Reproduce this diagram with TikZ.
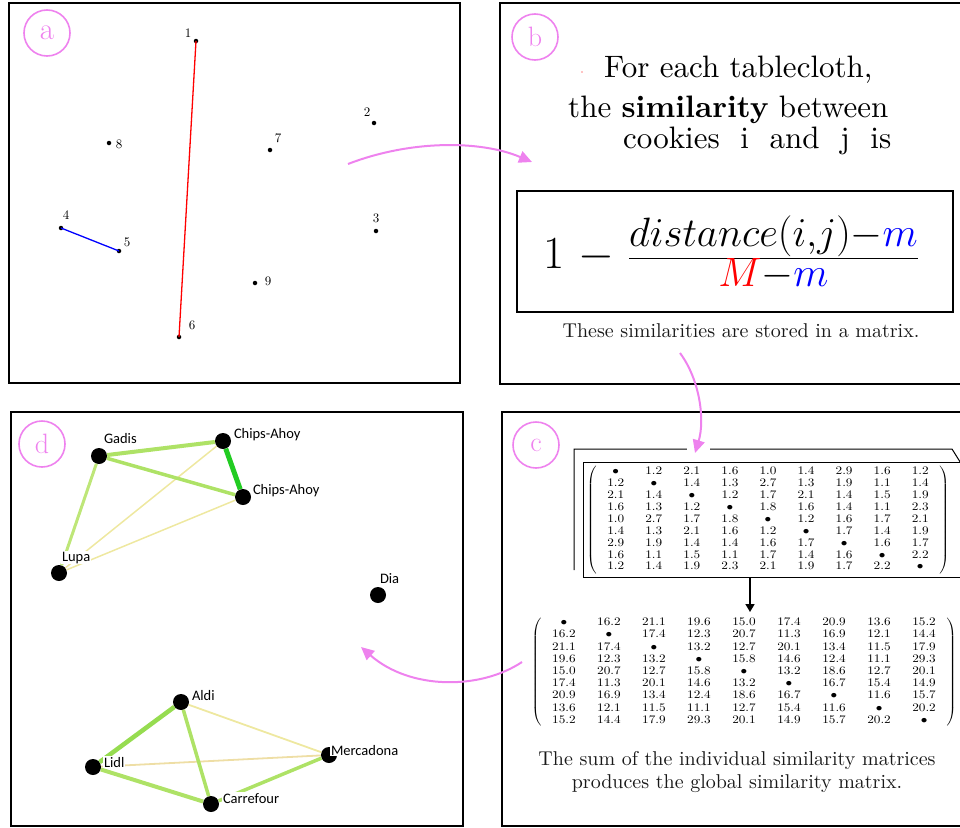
\RequirePackage{fix-cm}
\documentclass[tikz,border=0pt]{standalone}
\usepackage{fontspec}
\newfontfamily\carlito{Carlito}
\newfontfamily\lmten{lmroman10-regular}[Extension=.otf, BoldFont=lmroman10-bold]
\usepackage{graphicx}
\usetikzlibrary{arrows.meta}
\definecolor{lblpink}{RGB}{238,130,238}
\definecolor{edgeA}{RGB}{174,226,102}
\definecolor{edgeB}{RGB}{34,204,34}
\definecolor{edgeC}{RGB}{190,230,120}
\definecolor{edgeY}{RGB}{238,232,160}
\definecolor{edgeT}{RGB}{238,222,165}
\definecolor{edgeD}{RGB}{150,220,80}
\newcommand{\cmatA}{%
\bullet & 1.2 & 2.1 & 1.6 & 1.0 & 1.4 & 2.9 & 1.6 & 1.2\\
1.2 & \bullet & 1.4 & 1.3 & 2.7 & 1.3 & 1.9 & 1.1 & 1.4\\
2.1 & 1.4 & \bullet & 1.2 & 1.7 & 2.1 & 1.4 & 1.5 & 1.9\\
1.6 & 1.3 & 1.2 & \bullet & 1.8 & 1.6 & 1.4 & 1.1 & 2.3\\
1.0 & 2.7 & 1.7 & 1.8 & \bullet & 1.2 & 1.6 & 1.7 & 2.1\\
1.4 & 1.3 & 2.1 & 1.6 & 1.2 & \bullet & 1.7 & 1.4 & 1.9\\
2.9 & 1.9 & 1.4 & 1.4 & 1.6 & 1.7 & \bullet & 1.6 & 1.7\\
1.6 & 1.1 & 1.5 & 1.1 & 1.7 & 1.4 & 1.6 & \bullet & 2.2\\
1.2 & 1.4 & 1.9 & 2.3 & 2.1 & 1.9 & 1.7 & 2.2 & \bullet}
\newcommand{\cmatB}{%
\bullet & 16.2 & 21.1 & 19.6 & 15.0 & 17.4 & 20.9 & 13.6 & 15.2\\
16.2 & \bullet & 17.4 & 12.3 & 20.7 & 11.3 & 16.9 & 12.1 & 14.4\\
21.1 & 17.4 & \bullet & 13.2 & 12.7 & 20.1 & 13.4 & 11.5 & 17.9\\
19.6 & 12.3 & 13.2 & \bullet & 15.8 & 14.6 & 12.4 & 11.1 & 29.3\\
15.0 & 20.7 & 12.7 & 15.8 & \bullet & 13.2 & 18.6 & 12.7 & 20.1\\
17.4 & 11.3 & 20.1 & 14.6 & 13.2 & \bullet & 16.7 & 15.4 & 14.9\\
20.9 & 16.9 & 13.4 & 12.4 & 18.6 & 16.7 & \bullet & 11.6 & 15.7\\
13.6 & 12.1 & 11.5 & 11.1 & 12.7 & 15.4 & 11.6 & \bullet & 20.2\\
15.2 & 14.4 & 17.9 & 29.3 & 20.1 & 14.9 & 15.7 & 20.2 & \bullet}
\begin{document}
\begin{tikzpicture}[x=1pt,y=-1pt,
  panel/.style={draw=black, line width=2.5pt},
  tag/.style={circle, draw=lblpink, line width=1.6pt, minimum size=46pt, inner sep=0pt, text=lblpink, font=\fontsize{28}{30}\selectfont},
  pt/.style={circle, fill=black, inner sep=0pt, minimum size=4.5pt},
  ptlbl/.style={inner sep=0pt, font=\lmten\fontsize{13}{14}\selectfont},
  flow/.style={draw=lblpink, line width=2pt, -{Triangle[length=13pt,width=12pt]}},
  gnode/.style={circle, fill=black, inner sep=0pt, minimum size=16pt},
  glbl/.style={anchor=base west, fill=white, inner sep=0.8pt, font=\carlito\fontsize{14.5}{16}\selectfont},
  btext/.style={anchor=base west, inner sep=0pt, font=\lmten\fontsize{31}{34}\selectfont},
  capt/.style={anchor=base, inner sep=0pt, font=\lmten\fontsize{20}{23}\selectfont, text=black!90},
  frame/.style={draw=black, line width=1pt}
]
\useasboundingbox (0,0) rectangle (960,827);
% panels
\draw[panel] (9,3) rectangle (460,383);
\draw[panel] (500,3) rectangle (975,384);
\draw[panel] (502,412) rectangle (975,826);
\draw[panel] (11,412) rectangle (463,826);
% tags
\node[tag, font=\fontsize{31}{33}\selectfont] (taga) at (47,33) {a};
\node[tag] (tagb) at (535,37) {b};
\node[tag] (tagc) at (536,445) {c};
\node[tag] (tagd) at (42,444) {d};

% panel a
\node[pt] (p1) at (196,41) {};
\node[pt] (p2) at (374,123) {};
\node[pt] (p3) at (376,231) {};
\node[pt] (p4) at (61,228) {};
\node[pt] (p5) at (119,251) {};
\node[pt] (p6) at (179,337) {};
\node[pt] (p7) at (270,150) {};
\node[pt] (p8) at (109,143) {};
\node[pt] (p9) at (255,283) {};
\draw[red, line width=1.3pt] (p1.center) -- (p6.center);
\draw[blue, line width=1.3pt] (p4.center) -- (p5.center);
\node[ptlbl] (l1) at (188,33) {1};
\node[ptlbl] (l2) at (367,112) {2};
\node[ptlbl] (l3) at (376,218) {3};
\node[ptlbl] (l4) at (66,215) {4};
\node[ptlbl] (l5) at (127,242) {5};
\node[ptlbl] (l6) at (192,325) {6};
\node[ptlbl] (l7) at (278,138) {7};
\node[ptlbl] (l8) at (119,144) {8};
\node[ptlbl] (l9) at (268,281) {9};

% panel b
\fill[red] (582,72) circle (0.7);
\node[btext] (bt1) at (604,77) {For each tablecloth,};
\node[btext] (bt2) at (568,117) {the \textbf{similarity} between};
\node[btext] (bt3) at (623,148) {cookies~~i~~and~~j~~is};
\node[draw, line width=1.2pt, minimum width=436pt, minimum height=121pt, inner sep=0pt] (fbox) at (735,251.5) {};
\node[inner sep=0pt] (frm) at (731,253) {\fontsize{46}{50}\selectfont$1$\hspace{14pt}$-$\hspace{14pt}\fontsize{41}{45}\selectfont$\textstyle\frac{\textstyle distance(i{,}j){-}\textcolor{blue}{m}}{\textstyle\textcolor{red}{M}{-}\textcolor{blue}{m}}$};
\node[capt] (bcap) at (741,337) {These similarities are stored in a matrix.};

% panel c
\draw[frame] (574,570) -- (574,449) -- (952,449) -- (962,465);
\draw[frame] (583,462) rectangle (975,577);
\node[inner sep=0pt] (m1) at (768,520) {\fontsize{11.5}{11.9}\selectfont\setlength\arraycolsep{9.2pt}\scalebox{1.15}[1]{$\left(\begin{array}{*{9}{c}}\cmatA\end{array}\right)$}};
\node[inner sep=0pt] (m2) at (744,672) {\fontsize{11.5}{12.2}\selectfont\setlength\arraycolsep{9.35pt}\scalebox{1.15}[1]{$\left(\begin{array}{*{9}{c}}\cmatB\end{array}\right)$}};
\coordinate (down1) at (750,577);
\coordinate (down2) at (750,612);
\draw[line width=1.6pt, -{Triangle[length=8pt,width=9pt]}] (down1) -- (down2);
\node[capt] (ccap1) at (737,765) {The sum of the individual similarity matrices};
\node[capt] (ccap2) at (737,788) {produces the global similarity matrix.};

% flow arrows
\coordinate (ab1) at (348,164);
\coordinate (ab2) at (532,162);
\draw[flow] (ab1) .. controls (410,140) and (480,140) .. (ab2);
\coordinate (bc1) at (680,353);
\coordinate (bc2) at (695,453);
\draw[white, line width=4pt] (687,449) -- (710,449);
\draw[flow] (bc1) .. controls (700,380) and (705,420) .. (bc2);
\coordinate (cd1) at (522,662);
\coordinate (cd2) at (361,647);
\draw[flow] (cd1) .. controls (480,690) and (410,690) .. (cd2);

% panel d graph
\node[gnode] (gad) at (99,456) {};
\node[gnode] (ch1) at (223,441) {};
\node[gnode] (ch2) at (243,497) {};
\node[gnode] (lup) at (59,573) {};
\node[gnode] (dia) at (378,595) {};
\node[gnode] (ald) at (181,702) {};
\node[gnode] (lid) at (93,767) {};
\node[gnode] (mer) at (329,755) {};
\node[gnode] (car) at (211,804) {};
\draw[edgeY, line width=1.5pt] (ch1) -- (lup);
\draw[edgeY, line width=1.5pt] (ch2) -- (lup);
\draw[edgeC, line width=3pt] (gad) -- (lup);
\draw[edgeA, line width=3.5pt] (gad) -- (ch2);
\draw[edgeA, line width=4pt] (gad) -- (ch1);
\draw[edgeB, line width=5pt] (ch1) -- (ch2);
\draw[edgeY, line width=1.8pt] (ald) -- (mer);
\draw[edgeT, line width=1.8pt] (lid) -- (mer);
\draw[edgeA, line width=3.5pt] (ald) -- (car);
\draw[edgeD, line width=4.5pt] (ald) -- (lid);
\draw[edgeA, line width=4pt] (lid) -- (car);
\draw[edgeA, line width=3.5pt] (car) -- (mer);
\node[glbl] (tgad) at (103,443) {Gadis};
\node[glbl] (tch1) at (233,438) {Chips-Ahoy};
\node[glbl] (tch2) at (252,494) {Chips-Ahoy};
\node[glbl] (tlup) at (61,561) {Lupa};
\node[glbl] (tdia) at (379,583) {Dia};
\node[glbl] (tald) at (191,700) {Aldi};
\node[glbl] (tlid) at (103,767) {Lidl};
\node[glbl] (tmer) at (330,755) {Mercadona};
\node[glbl] (tcar) at (222,803) {Carrefour};
\end{tikzpicture}
\end{document}
